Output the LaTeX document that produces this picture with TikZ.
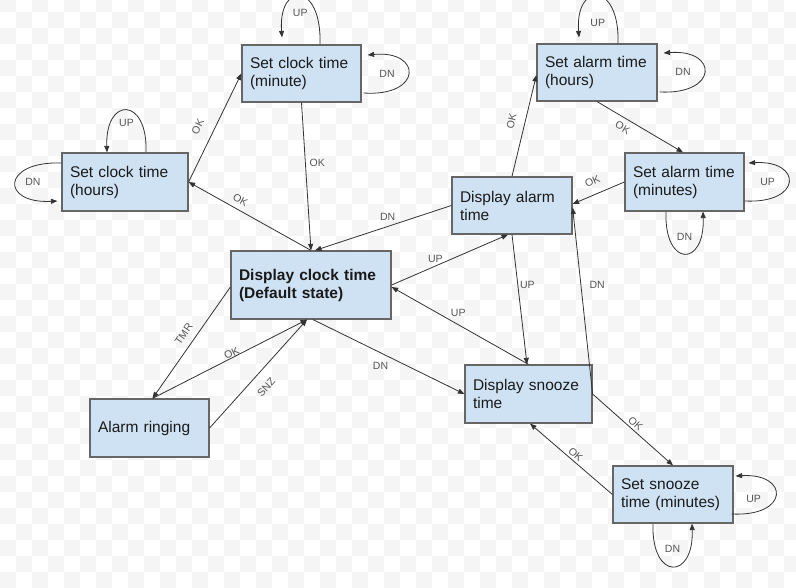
\documentclass[tikz,border=0pt]{standalone}
\usepackage{fontspec}
\setmainfont{Liberation Sans}
\usetikzlibrary{arrows.meta}
\definecolor{boxfill}{HTML}{CFE2F3}
\definecolor{boxborder}{HTML}{666666}
\definecolor{edgecol}{HTML}{333333}
\definecolor{labcol}{HTML}{555555}
\definecolor{txtcol}{HTML}{1A1A1A}
\definecolor{checker}{HTML}{F5F5F5}
\newcommand{\boxfont}{\fontsize{15.5}{18}\selectfont}
\newcommand{\labfont}{\fontsize{10.5}{12}\selectfont}
\tikzset{
  box/.style={draw=boxborder, fill=boxfill, line width=1.2pt, inner xsep=8pt, inner ysep=0pt,
    align=left, font=\boxfont, text=txtcol},
  conn/.style={draw=edgecol, line width=0.8pt, -{Triangle[length=6.5pt,width=5pt]}},
  lbl/.style={font=\labfont, text=labcol},
}
\begin{document}
\begin{tikzpicture}[x=1pt,y=-1pt]
\useasboundingbox (0,0) rectangle (796,588);
\fill[white] (0,0) rectangle (796,588);
\begin{scope}
\clip (0,0) rectangle (796,588);
\foreach \i in {0,2,...,48} \foreach \j in {-1,1,...,35}
  \fill[checker] (16*\i,12+16*\j) rectangle ++(16,16);
\foreach \i in {1,3,...,49} \foreach \j in {0,2,...,36}
  \fill[checker] (16*\i,12+16*\j) rectangle ++(16,16);
\end{scope}

% states
\node[box, minimum height=58pt, text width=110pt] (sch) at (125,182) {\mbox{Set clock time}\\(hours)};
\node[box, minimum height=57pt, text width=103pt] (scm) at (301.5,73.5) {\mbox{Set clock time}\\(minute)};
\node[box, minimum height=68pt, text width=144pt, font=\boxfont\bfseries] (dct) at (311,285) {\mbox{Display clock time}\\(Default state)};
\node[box, minimum height=57pt, text width=104pt] (sah) at (597,72.5) {\mbox{Set alarm time}\\(hours)};
\node[box, minimum height=58pt, text width=103pt] (sam) at (684.5,182) {\mbox{Set alarm time}\\(minutes)};
\node[box, minimum height=57pt, text width=104pt] (dat) at (512,205.5) {\mbox{Display alarm}\\time};
\node[box, minimum height=58pt, text width=103pt] (ar) at (149.5,428) {Alarm ringing};
\node[box, minimum height=58pt, text width=111pt] (dst) at (528.5,394) {\mbox{Display snooze}\\time};
\node[box, minimum height=57pt, text width=104pt] (ssm) at (673,494.5) {\mbox{Set snooze}\\\mbox{time (minutes)}};

% transitions
\draw[conn] (sch.east) -- (scm.west) node[lbl, sloped, above=8.5pt, pos=.445]{OK};
\draw[conn] (dct.north) -- (sch.east) node[lbl, sloped, above=2.5pt, pos=.616]{OK};
\draw[conn] (scm.south) -- (dct.north) node[lbl, right=0.5pt, pos=.41]{OK};
\draw[conn] (dat.west) -- ([xshift=4pt]dct.north) node[lbl, above=2pt, pos=.467]{DN};
\draw[conn] (dct.east) -- ([xshift=-4pt]dat.south) node[lbl, above=-0.5pt, pos=.376]{UP};
\draw[conn] (dst.north) -- ([yshift=-2pt]dct.east) node[lbl, above=4.5pt, pos=.513]{UP};
\draw[conn] (dat.south) -- ([xshift=-1.5pt]dst.north) node[lbl, right=-1.5pt, pos=.387]{UP};
\draw[conn] (dst.east) -- ([yshift=-2pt]dat.east) node[lbl, right=5pt, pos=.584]{DN};
\draw[conn] (sam.west) -- ([yshift=1.5pt]dat.east) node[lbl, sloped, above=5.4pt, pos=.52]{OK};
\draw[conn] (dat.north) -- ([yshift=-2.5pt]sah.west) node[lbl, sloped, above=5.8pt, pos=.51]{OK};
\draw[conn] (sah.south) -- ([xshift=-1.5pt]sam.north) node[lbl, sloped, below=2pt, pos=.354]{OK};
\draw[conn] ([xshift=2pt]dct.south) -- (dst.west) node[lbl, below=5.5pt, pos=.446]{DN};
\draw[conn] (dst.east) -- (ssm.north) node[lbl, sloped, above=-1pt, pos=.48]{OK};
\draw[conn] (ssm.west) -- ([xshift=1.5pt]dst.south) node[lbl, sloped, above=-1pt, pos=.497]{OK};
\draw[conn] ([yshift=-2pt]dct.west) -- ([xshift=3pt]ar.north) node[lbl, sloped, above=4pt, pos=.48]{TMR};
\draw[conn] ([xshift=3pt]ar.north) -- ([xshift=-4pt]dct.south) node[lbl, sloped, above=-3pt, pos=.525]{OK};
\draw[conn] (ar.east) -- ([xshift=-4pt]dct.south) node[lbl, sloped, below=7.3pt, pos=.468]{SNZ};

% self loops
\draw[conn] ([xshift=18.5pt]scm.north) .. controls +(2,-63) and +(-4,-56) .. ([xshift=-19.5pt,yshift=7pt]scm.north) node[lbl, pos=.5, below=9pt]{UP};
\draw[conn] ([xshift=2pt,yshift=-19.5pt]scm.east) .. controls +(59,4) and +(55,-5) .. ([xshift=6pt,yshift=18.5pt]scm.east) node[lbl, pos=.5, left=10pt]{DN};
\draw[conn] ([xshift=21pt]sch.north) .. controls +(2,-56) and +(-2,-56) .. ([xshift=-18pt]sch.north) node[lbl, pos=.5, below=5pt]{UP};
\draw[conn] ([yshift=19pt]sch.west) .. controls +(-60,-2) and +(-57,3) .. ([xshift=-4pt,yshift=-19pt]sch.west) node[lbl, pos=.5, right=6pt]{DN};
\draw[conn] ([xshift=21pt]sah.north) .. controls +(2,-62) and +(-4,-56) .. ([xshift=-18pt,yshift=6pt]sah.north) node[lbl, pos=.5, below=19pt]{UP};
\draw[conn] ([xshift=2pt,yshift=-19.5pt]sah.east) .. controls +(59,3) and +(55,-4) .. ([xshift=6pt,yshift=19.5pt]sah.east) node[lbl, pos=.5, left=10pt]{DN};
\draw[conn] ([yshift=-19pt]sam.east) .. controls +(58,3) and +(54,-3) .. ([xshift=4pt,yshift=19pt]sam.east) node[lbl, pos=.5, left=10pt]{UP};
\draw[conn] ([xshift=-18.5pt]sam.south) .. controls +(-2,56) and +(2,56) .. ([xshift=18.5pt]sam.south) node[lbl, pos=.5, above=9pt]{DN};
\draw[conn] ([xshift=-2pt,yshift=-19.5pt]ssm.east) .. controls +(58,3) and +(54,-3) .. ([xshift=2pt,yshift=18.5pt]ssm.east) node[lbl, pos=.5, left=11pt, yshift=-4pt]{UP};
\draw[conn] ([xshift=-20pt]ssm.south) .. controls +(-2,57) and +(2,57) .. ([xshift=19pt]ssm.south) node[lbl, pos=.5, above=10pt]{DN};
\end{tikzpicture}
\end{document}
